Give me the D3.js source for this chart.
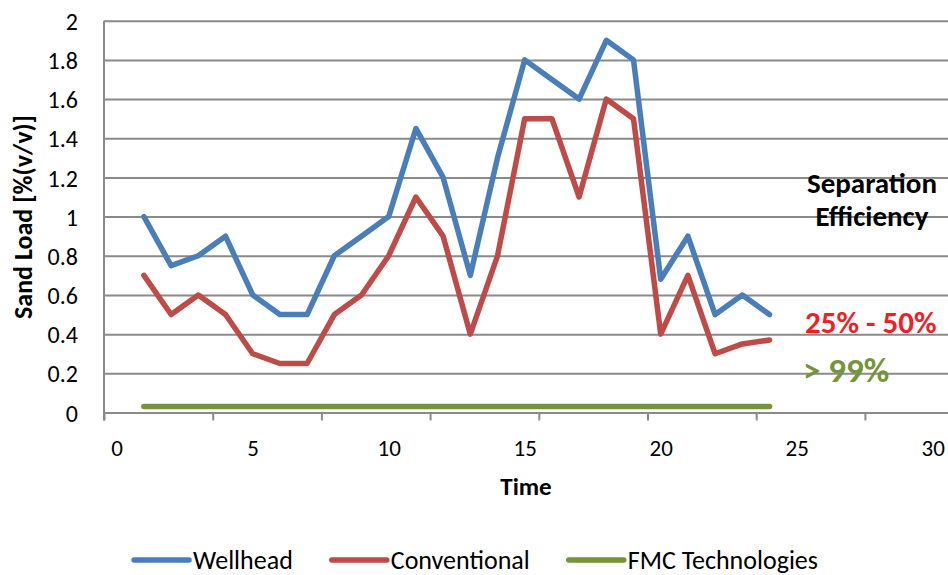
<!DOCTYPE html>
<html>
<head>
<meta charset="utf-8">
<script src="https://cdn.jsdelivr.net/npm/d3@7"></script>
<style>
  html, body { margin: 0; padding: 0; background: #fff; }
  svg { display: block; }
  text { font-family: Carlito, Calibri, Lato, "Open Sans", sans-serif; }
</style>
</head>
<body>
<svg id="chart" width="948" height="575"></svg>
<script>
// ---- data ----
const time = [1, 2, 3, 4, 5, 6, 7, 8, 9, 10, 11, 12, 13, 14, 15, 16, 17, 18, 19, 20, 21, 22, 23, 24];
const wellhead = [1.0, 0.75, 0.8, 0.9, 0.6, 0.5, 0.5, 0.8, 0.9, 1.0, 1.45, 1.2, 0.7, 1.3, 1.8, 1.7, 1.6, 1.9, 1.8, 0.68, 0.9, 0.5, 0.6, 0.5];
const conventional = [0.7, 0.5, 0.6, 0.5, 0.3, 0.25, 0.25, 0.5, 0.6, 0.8, 1.1, 0.9, 0.4, 0.8, 1.5, 1.5, 1.1, 1.6, 1.5, 0.4, 0.7, 0.3, 0.35, 0.37];
const fmc = [0.03, 0.03, 0.03, 0.03, 0.03, 0.03, 0.03, 0.03, 0.03, 0.03, 0.03, 0.03, 0.03, 0.03, 0.03, 0.03, 0.03, 0.03, 0.03, 0.03, 0.03, 0.03, 0.03, 0.03];
const seriesNames = ["Wellhead", "Conventional", "FMC Technologies"];
const xTickLabels = [0, 5, 10, 15, 20, 25, 30];
const yTickLabels = [0, 0.2, 0.4, 0.6, 0.8, 1, 1.2, 1.4, 1.6, 1.8, 2];
const xTickMarks = [0, 1, 2, 3, 4, 5, 6, 7, 8];
const annotations = ["Separation", "Efficiency", "25% - 50%", "> 99%"];

// ---- layout ----
const colors = ["#4A7EBB", "#BE4B48", "#77933C"];
const gridColor = "#8A8A8A";
const svg = d3.select("#chart");
const plotLeft = 104, plotRight = 948, plotTop = 20.7, plotBottom = 412.5;

const x = d3.scaleLinear().domain([0, 30]).range([116.7, 932.7]);
const xMarks = d3.scaleLinear().domain([0, 8]).range([plotLeft, plotLeft + 8 * 108.7]);
const y = d3.scaleLinear().domain([0, 2]).range([plotBottom, plotTop]);

// gridlines + y labels
const yAxis = d3.axisLeft(y)
  .tickValues(yTickLabels)
  .tickSize(-(plotRight - plotLeft))
  .tickPadding(26)
  .tickFormat(d => String(+d.toFixed(1)));
const gy = svg.append("g").attr("transform", `translate(${plotLeft},0)`).call(yAxis);
gy.select(".domain").remove();
gy.selectAll(".tick line").attr("stroke", gridColor).attr("stroke-width", 2);
gy.selectAll(".tick text").attr("font-size", 24).attr("fill", "#000").attr("dy", "0.36em")
  .attr("font-family", "Carlito, Calibri, Lato, sans-serif");

// vertical axis line
svg.append("line")
  .attr("x1", plotLeft).attr("x2", plotLeft)
  .attr("y1", plotTop).attr("y2", plotBottom + 8)
  .attr("stroke", gridColor).attr("stroke-width", 2);

// x tick marks
const gxm = svg.append("g").attr("transform", `translate(0,${plotBottom})`)
  .call(d3.axisBottom(xMarks).tickValues(xTickMarks).tickSize(8).tickFormat(""));
gxm.select(".domain").remove();
gxm.selectAll(".tick line").attr("stroke", gridColor).attr("stroke-width", 2);

// x labels
const gx = svg.append("g").attr("transform", `translate(0,${plotBottom})`)
  .call(d3.axisBottom(x).tickValues(xTickLabels).tickSize(0).tickPadding(27));
gx.select(".domain").remove();
gx.selectAll(".tick text").attr("font-size", 23).attr("fill", "#000")
  .attr("font-family", "Carlito, Calibri, Lato, sans-serif");

// axis titles
svg.append("text")
  .attr("x", (plotLeft + plotRight) / 2).attr("y", 495)
  .attr("text-anchor", "middle").attr("font-size", 25).attr("font-weight", "bold")
  .text("Time");
svg.append("text")
  .attr("transform", "translate(32,217) rotate(-90)")
  .attr("text-anchor", "middle").attr("font-size", 26).attr("font-weight", "bold")
  .text("Sand Load [%(v/v)]");

// lines
const allSeries = [wellhead, conventional, fmc];
const line = d3.line().x((d, i) => x(time[i])).y(d => y(d));
allSeries.forEach((s, k) => {
  svg.append("path")
    .datum(s)
    .attr("d", line)
    .attr("fill", "none")
    .attr("stroke", colors[k])
    .attr("stroke-width", 5.5)
    .attr("stroke-linejoin", "round")
    .attr("stroke-linecap", "round");
});

// annotations
svg.append("text").attr("x", 872).attr("y", 193).attr("text-anchor", "middle")
  .attr("font-size", 29).attr("font-weight", "bold").attr("fill", "#000").text(annotations[0]);
svg.append("text").attr("x", 872).attr("y", 226).attr("text-anchor", "middle")
  .attr("font-size", 29).attr("font-weight", "bold").attr("fill", "#000").text(annotations[1]);
svg.append("text").attr("x", 805).attr("y", 333)
  .attr("font-size", 31).attr("font-weight", "bold").attr("fill", "#EE1F26").text(annotations[2]);
svg.append("text").attr("x", 803).attr("y", 382)
  .attr("font-size", 35).attr("font-weight", "bold").attr("fill", "#77933C").text(annotations[3]);

// legend
const legend = svg.append("g");
let cx = 0;
seriesNames.forEach((name, k) => {
  const g = legend.append("g").attr("transform", `translate(${cx},0)`);
  g.append("line").attr("x1", 0).attr("x2", 55).attr("y1", 0).attr("y2", 0)
    .attr("stroke", colors[k]).attr("stroke-width", 5.5).attr("stroke-linecap", "round");
  const t = g.append("text").attr("x", 59).attr("y", 0).attr("dy", "0.35em")
    .attr("font-size", 26).attr("fill", "#000").text(name);
  cx += 59 + t.node().getComputedTextLength() + 39;
});
const legendWidth = cx - 39;
legend.attr("transform", `translate(${476 - legendWidth / 2},560)`);
</script>
</body>
</html>
